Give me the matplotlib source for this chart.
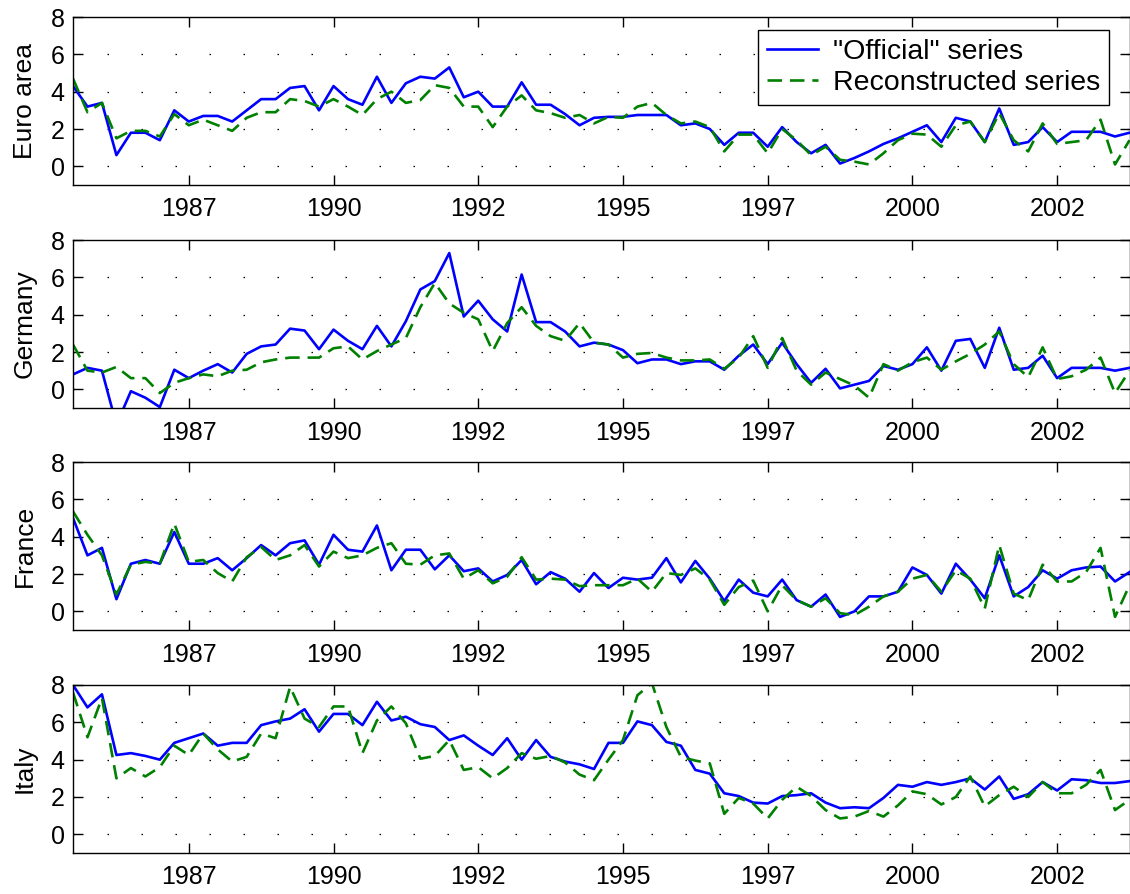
import numpy as np
import matplotlib
matplotlib.use("Agg")
import matplotlib.pyplot as plt

plt.rcParams['font.family'] = ['Liberation Sans', 'DejaVu Sans']

# ---- data (quarterly, 1985Q3 .. 2003Q4) ----
start_year = 1985.5
n_obs = 74
dates = start_year + 0.25 * np.arange(n_obs)

countries = ["Euro area", "Germany", "France", "Italy"]

euro_official = [4.3, 3.2, 3.4, 0.6, 1.8, 1.8, 1.4, 3.0, 2.4, 2.7, 2.7, 2.4, 3.0, 3.6, 3.6, 4.2, 4.3, 3.0, 4.3, 3.6,
                 3.3, 4.8, 3.4, 4.45, 4.8, 4.7, 5.3, 3.7, 4.0, 3.2, 3.2, 4.5, 3.3, 3.3, 2.8, 2.2, 2.6, 2.65, 2.65, 2.75,
                 2.75, 2.75, 2.2, 2.3, 2.0, 1.15, 1.8, 1.8, 1.05, 2.1, 1.3, 0.7, 1.15, 0.15, 0.45, 0.8, 1.2, 1.5, 1.85, 2.2,
                 1.3, 2.6, 2.4, 1.3, 3.1, 1.15, 1.3, 2.1, 1.3, 1.85, 1.85, 1.85, 1.6, 1.8]
euro_recon = [4.7, 2.9, 3.4, 1.5, 1.9, 1.9, 1.6, 2.8, 2.2, 2.5, 2.2, 1.9, 2.6, 2.9, 2.9, 3.6, 3.5, 3.2, 3.6, 3.2,
              2.75, 3.6, 4.0, 3.4, 3.55, 4.35, 4.2, 3.2, 3.2, 2.1, 3.2, 3.8, 3.0, 2.85, 2.6, 2.75, 2.3, 2.65, 2.6, 3.2,
              3.4, 2.75, 2.3, 2.4, 2.1, 0.8, 1.7, 1.7, 0.7, 2.0, 1.4, 0.6, 1.05, 0.35, 0.25, 0.1, 0.7, 1.4, 1.75, 1.7,
              1.05, 2.2, 2.4, 1.3, 2.85, 1.4, 0.8, 2.3, 1.2, 1.3, 1.4, 2.5, 0.1, 1.4]

germany_official = [0.8, 1.15, 1.0, -1.9, -0.1, -0.45, -0.95, 1.05, 0.6, 1.0, 1.35, 0.9, 1.9, 2.3, 2.4, 3.25, 3.15, 2.15, 3.2, 2.6,
                    2.15, 3.4, 2.3, 3.65, 5.35, 5.8, 7.3, 3.9, 4.75, 3.75, 3.1, 6.15, 3.6, 3.6, 3.1, 2.3, 2.5, 2.4, 2.1, 1.4,
                    1.6, 1.6, 1.35, 1.5, 1.5, 1.05, 1.8, 2.4, 1.35, 2.5, 1.35, 0.35, 1.1, 0.05, 0.25, 0.45, 1.25, 1.05, 1.35, 2.25,
                    1.0, 2.6, 2.7, 1.15, 3.3, 1.05, 1.15, 1.8, 0.6, 1.15, 1.15, 1.15, 1.0, 1.15]
germany_recon = [2.4, 1.0, 0.9, 1.2, 0.6, 0.6, -0.2, 0.35, 0.6, 0.8, 0.7, 1.0, 1.05, 1.45, 1.6, 1.7, 1.7, 1.7, 2.2, 2.3,
                 1.6, 2.05, 2.4, 2.75, 4.4, 5.7, 4.6, 4.1, 3.75, 2.05, 3.55, 4.4, 3.4, 2.85, 2.6, 3.55, 2.5, 2.4, 1.7, 1.9,
                 1.95, 1.7, 1.55, 1.55, 1.6, 1.1, 1.7, 2.85, 1.15, 2.75, 1.0, 0.25, 0.9, 0.55, 0.2, -0.45, 1.35, 1.0, 1.45, 1.7,
                 1.05, 1.5, 1.9, 2.4, 3.1, 1.35, 0.65, 2.25, 0.55, 0.7, 1.05, 1.7, -0.2, 1.0]

france_official = [5.0, 3.0, 3.4, 0.65, 2.55, 2.75, 2.55, 4.25, 2.55, 2.55, 2.85, 2.2, 2.85, 3.55, 3.0, 3.65, 3.8, 2.5, 4.1, 3.3,
                   3.2, 4.6, 2.2, 3.3, 3.3, 2.25, 3.0, 2.15, 2.3, 1.6, 1.95, 2.75, 1.45, 2.1, 1.75, 1.05, 2.05, 1.25, 1.8, 1.7,
                   1.8, 2.85, 1.55, 2.7, 1.75, 0.55, 1.7, 1.0, 0.8, 1.7, 0.6, 0.25, 0.9, -0.3, 0.0, 0.8, 0.8, 1.05, 2.35, 1.95,
                   0.95, 2.55, 1.7, 0.7, 3.0, 0.8, 1.3, 2.2, 1.75, 2.2, 2.35, 2.4, 1.6, 2.1]
france_recon = [5.35, 4.1, 3.0, 0.9, 2.5, 2.65, 2.55, 4.7, 2.65, 2.75, 2.05, 1.6, 2.9, 3.45, 2.75, 3.0, 3.55, 2.4, 3.2, 2.85,
                3.0, 3.4, 3.65, 2.55, 2.5, 3.0, 3.1, 1.75, 2.2, 1.5, 1.85, 2.9, 1.7, 1.75, 1.7, 1.35, 1.4, 1.4, 1.4, 1.75,
                1.05, 2.05, 1.95, 2.3, 1.7, 0.35, 1.3, 1.65, 0.0, 1.4, 0.6, 0.25, 0.7, -0.1, -0.2, 0.25, 0.8, 1.05, 1.75, 1.95,
                1.05, 2.2, 1.75, 0.15, 3.55, 0.95, 0.6, 2.5, 1.6, 1.6, 2.1, 3.4, -0.3, 1.4]

italy_official = [8.0, 6.8, 7.5, 4.25, 4.35, 4.2, 4.0, 4.9, 5.15, 5.4, 4.75, 4.9, 4.9, 5.85, 6.05, 6.2, 6.7, 5.5, 6.45, 6.45,
                  5.85, 7.1, 6.1, 6.3, 5.9, 5.75, 5.05, 5.3, 4.75, 4.25, 5.15, 4.0, 5.05, 4.15, 3.9, 3.75, 3.5, 4.9, 4.9, 6.05,
                  5.85, 4.95, 4.75, 3.45, 3.25, 2.2, 2.05, 1.7, 1.65, 2.05, 2.1, 2.2, 1.7, 1.4, 1.45, 1.4, 1.95, 2.65, 2.55, 2.8,
                  2.65, 2.8, 3.0, 2.4, 3.1, 1.9, 2.15, 2.8, 2.35, 2.95, 2.9, 2.75, 2.75, 2.85]
italy_recon = [7.6, 5.2, 7.3, 3.0, 3.55, 3.1, 3.6, 4.75, 4.25, 5.4, 4.55, 3.9, 4.15, 5.4, 5.15, 7.9, 6.2, 5.75, 6.85, 6.85,
               4.35, 6.1, 6.85, 5.95, 4.05, 4.2, 5.05, 3.45, 3.6, 3.0, 3.55, 4.35, 4.05, 4.2, 3.85, 3.2, 2.9, 4.0, 5.05, 7.45,
               8.1, 5.75, 4.15, 3.95, 3.8, 1.1, 1.95, 1.65, 0.85, 1.85, 2.55, 2.05, 1.3, 0.85, 0.95, 1.25, 0.95, 1.55, 2.3, 2.15,
               1.6, 2.0, 3.1, 1.5, 2.1, 2.55, 2.0, 2.8, 2.2, 2.2, 2.65, 3.45, 1.3, 1.85]

official = [euro_official, germany_official, france_official, italy_official]
recon = [euro_recon, germany_recon, france_recon, italy_recon]

tick_pos = [1987.5, 1990.0, 1992.5, 1995.0, 1997.5, 2000.0, 2002.5]
tick_labels = ["1987", "1990", "1992", "1995", "1997", "2000", "2002"]
y_ticks = [0, 2, 4, 6, 8]
legend_labels = ['"Official" series', 'Reconstructed series']

# ---- figure ----
W, H = 1130, 894
fig = plt.figure(figsize=(W / 100, H / 100), dpi=100)

left_px, right_px = 73, 1129.5
tops_px = [17, 240, 462, 685]
ax_h_px = 168

blue = (0, 0, 1)
green = (0, 0.5, 0)

axes = []
for k in range(4):
    top = tops_px[k]
    rect = [left_px / W, 1 - (top + ax_h_px) / H, (right_px - left_px) / W, ax_h_px / H]
    ax = fig.add_axes(rect)
    axes.append(ax)
    l1, = ax.plot(dates, official[k], color=blue, lw=1.9, solid_joinstyle='round')
    l2, = ax.plot(dates, recon[k], color=green, lw=1.9, dashes=(5.5, 3))
    ax.set_xlim(dates[0], dates[-1])
    ax.set_ylim(-1, 8)
    ax.set_yticks(y_ticks)
    ax.set_xticks(tick_pos)
    ax.set_xticklabels(tick_labels)
    for gy in y_ticks[:-1]:
        ax.axhline(gy, color='black', lw=0.9, dashes=(1.2, 26), zorder=0.5)
    ax.tick_params(axis='both', direction='in', length=7, width=1, labelsize=18,
                   top=True, right=True, colors='black')
    ax.tick_params(axis='x', pad=9)
    ax.tick_params(axis='y', pad=6)
    for s in ax.spines.values():
        s.set_linewidth(1.0)
        s.set_color('black')
    ax.set_ylabel(countries[k], fontsize=19, labelpad=8)
    if k == 0:
        leg = ax.legend([l1, l2], legend_labels, loc='upper left',
                        bbox_to_anchor=(758 / W, 1 - 30 / H), bbox_transform=fig.transFigure,
                        borderaxespad=0, fontsize=20.5, fancybox=False, framealpha=1,
                        edgecolor='black', handlelength=1.8, handletextpad=0.55,
                        borderpad=0.3, labelspacing=0.2)
        leg.get_frame().set_linewidth(1.0)

for ax in axes:
    ax.yaxis.set_label_coords(-0.034, 0.5)

fig.savefig("out.png", dpi=100)
